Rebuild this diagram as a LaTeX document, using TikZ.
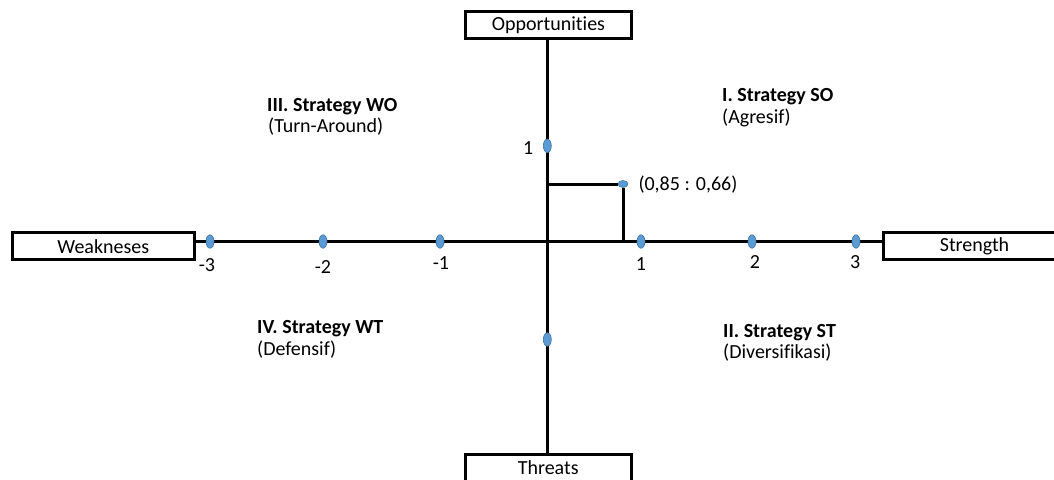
\documentclass[tikz,border=0pt]{standalone}
\usepackage{fontspec}
\setmainfont{Carlito}[Ligatures=NoCommon]
\usepackage{tikz}
\usetikzlibrary{shapes.geometric}
\definecolor{dotfill}{HTML}{5B9BD5}
\definecolor{dotline}{HTML}{41719C}
\tikzset{
  axbox/.style={draw, line width=3pt, minimum height=27pt, inner sep=0pt},
  axline/.style={line width=3pt},
  axdot/.style={ellipse, fill=dotfill, draw=dotline, line width=0.6pt, minimum width=8pt, minimum height=13.5pt, inner sep=0pt},
  ptdot/.style={axdot, minimum width=10pt, minimum height=7pt},
  qtext/.style={anchor=base west, inner sep=0pt},
}

\begin{document}
\begin{tikzpicture}[x=1pt, y=-1pt, font=\fontsize{20}{21}\selectfont]
\useasboundingbox (0,0) rectangle (1054,479);
\clip (0,0) rectangle (1054,479);
\coordinate (O) at (547.3,241.5);
\node at (103.3,246.4) (W) [axbox, minimum width=182pt] {Weakneses};
\node at (974.5,246.4) (S) [axbox, minimum width=182pt] {Strength};
\node at (548.5,25.3) (Op) [axbox, minimum width=166.4pt] {Opportunities};
\node at (548.2,467.5) (T) [axbox, minimum width=166.4pt] {Threats};
\draw[axline] (W.east |- O) -- (S.west |- O);
\draw[axline] (Op.south -| O) -- (T.north -| O);
\node at (210,241.5) (w3) [axdot] {};
\node at (323,241.5) (w2) [axdot] {};
\node at (440,241.5) (w1) [axdot] {};
\node at (641,241.5) (s1) [axdot] {};
\node at (752,241.5) (s2) [axdot] {};
\node at (856,241.5) (s3) [axdot] {};
\node at (547.3,145.8) (o1) [axdot] {};
\node at (547.3,339.5) (t1) [axdot] {};
\node at (207,265.5) (lw3) {-3};
\node at (323,267.5) (lw2) {-2};
\node at (441,263) (lw1) {-1};
\node at (641,264) (ls1) {1};
\node at (755,262.5) (ls2) {2};
\node at (855.3,261.7) (ls3) {3};
\node at (528.3,148.3) (lo1) {1};
\node at (623,184) (P) [ptdot] {};
\draw[axline] (P) -- (P -| O);
\draw[axline] (P) -- (P |- O);
\node at (638.3,190) (lP) [qtext] {(0,85 : 0,66)};
\node at (722,101) (soH) [qtext] {\textbf{I. Strategy SO}};
\node at (722,123) (soS) [qtext] {(Agresif)};
\node at (267,111) (woH) [qtext] {\textbf{III. Strategy WO}};
\node at (268,132) (woS) [qtext] {(Turn-Around)};
\node at (257,333) (wtH) [qtext] {\textbf{IV. Strategy WT}};
\node at (257,355) (wtS) [qtext] {(Defensif)};
\node at (723,337) (stH) [qtext] {\textbf{II. Strategy ST}};
\node at (723,358) (stS) [qtext] {(Diversifikasi)};
\end{tikzpicture}
\end{document}
